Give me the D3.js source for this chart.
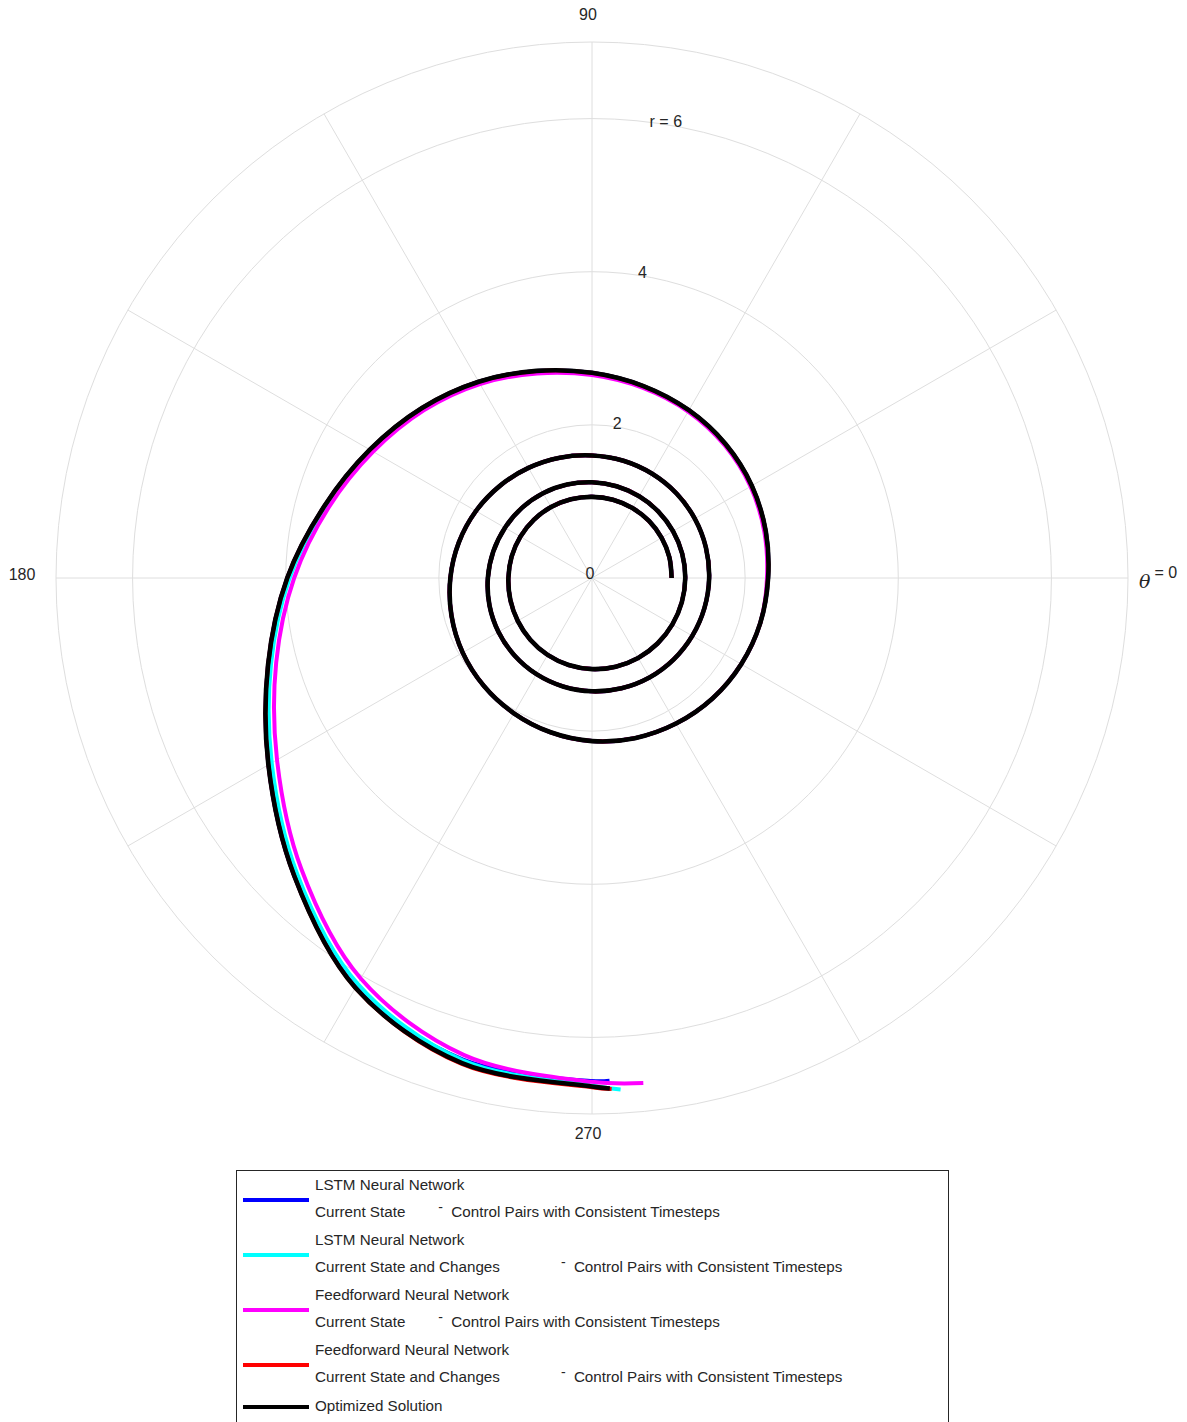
<!DOCTYPE html>
<html>
<head>
<meta charset="utf-8">
<script src="https://cdn.jsdelivr.net/npm/d3@7"></script>
<style>
  body { margin: 0; background: #fff; }
  svg { display: block; }
  text { font-family: "Liberation Sans", Arial, sans-serif; fill: #262626; }
</style>
</head>
<body>
<svg id="chart" width="1187" height="1422"></svg>
<script>
// ---- data: polar angle (degrees, cumulative) and radius of each trajectory ----
// first three revolutions (15° steps), shared by every trajectory
const thetaInner = [
     0,   15,   30,   45,   60,   75,   90,  105,  120,  135,  150,  165,
   180,  195,  210,  225,  240,  255,  270,  285,  300,  315,  330,  345,
   360,  375,  390,  405,  420,  435,  450,  465,  480,  495,  510,  525,
   540,  555,  570,  585,  600,  615,  630,  645,  660,  675,  690,  705,
   720,  735,  750,  765,  780,  795,  810,  825,  840,  855,  870,  885,
   900,  915,  930,  945,  960,  975,  990, 1005, 1020, 1035, 1050, 1065
];
const rInner = [
  1.040, 1.046, 1.050, 1.053, 1.055, 1.058, 1.060, 1.064, 1.070, 1.075, 1.080, 1.086,
  1.092, 1.104, 1.120, 1.140, 1.160, 1.177, 1.190, 1.199, 1.206, 1.210, 1.212, 1.215,
  1.218, 1.220, 1.222, 1.226, 1.232, 1.240, 1.250, 1.263, 1.279, 1.295, 1.312, 1.335,
  1.360, 1.386, 1.410, 1.431, 1.450, 1.466, 1.480, 1.491, 1.500, 1.506, 1.512, 1.520,
  1.530, 1.540, 1.550, 1.561, 1.572, 1.585, 1.600, 1.626, 1.660, 1.702, 1.750, 1.800,
  1.850, 1.900, 1.950, 1.996, 2.040, 2.086, 2.130, 2.165, 2.195, 2.225, 2.250, 2.275
];
// final revolution, where the trajectories separate
const thetaOuter = [
  1080, 1095, 1110, 1125, 1140, 1155, 1170, 1185, 1200, 1215,
  1230, 1245, 1260, 1275, 1290, 1305, 1320, 1335, 1350
];
const rLstmState = [
  2.30, 2.35, 2.41, 2.47, 2.53, 2.595, 2.68, 2.80, 2.96, 3.14,
  3.35, 3.62, 3.98, 4.38, 4.88, 5.50, 6.16, 6.51, 6.57
];
const rLstmStateChanges = [
  2.30, 2.35, 2.41, 2.47, 2.53, 2.595, 2.68, 2.80, 2.96, 3.135,
  3.335, 3.60, 3.95, 4.34, 4.83, 5.45, 6.12, 6.52, 6.63
];
const rFfnnState = [
  2.285, 2.33, 2.39, 2.45, 2.51, 2.57, 2.65, 2.765, 2.925, 3.10,
  3.30, 3.56, 3.89, 4.27, 4.75, 5.37, 6.04, 6.45, 6.58
];
const rFfnnStateChanges = [
  2.30, 2.35, 2.41, 2.47, 2.53, 2.595, 2.68, 2.80, 2.96, 3.14,
  3.35, 3.62, 3.98, 4.38, 4.88, 5.50, 6.18, 6.57, 6.65
];
const rOptimized = [
  2.30, 2.35, 2.41, 2.47, 2.53, 2.595, 2.68, 2.80, 2.96, 3.14,
  3.35, 3.62, 3.98, 4.38, 4.88, 5.50, 6.18, 6.56, 6.64
];
// final sample of each trajectory (same order as the series below)
const finalTheta = [1352.0, 1353.2, 1355.8, 1352.2, 1352.0];
const finalR     = [6.57, 6.69, 6.63, 6.68, 6.67];

const seriesNetwork = ["LSTM Neural Network", "LSTM Neural Network",
  "Feedforward Neural Network", "Feedforward Neural Network", "Optimized Solution"];
const seriesInput = ["Current State", "Current State and Changes",
  "Current State", "Current State and Changes", ""];
const seriesSuffix = "Control Pairs with Consistent Timesteps";
const seriesColors = ["#0000ff", "#00ffff", "#ff00ff", "#ff0000", "#000000"];
const seriesOuter = [rLstmState, rLstmStateChanges, rFfnnState, rFfnnStateChanges, rOptimized];

const radialTicks = [0, 2, 4, 6];
const radialMax = 7;
const spokeAngles = [0, 30, 60, 90, 120, 150, 180, 210, 240, 270, 300, 330];
const angleLabelValues = [90, 180, 270];

// ---- layout ----
const svg = d3.select("#chart");
const cx = 592, cy = 578, outerR = 536;
const r = d3.scaleLinear().domain([0, radialMax]).range([0, outerR]);
const toRad = d => d * Math.PI / 180;

const plot = svg.append("g").attr("transform", `translate(${cx},${cy})`);
const gridColor = "#dedede";

// radial grid circles and outer boundary
plot.selectAll("circle.grid")
  .data(radialTicks.filter(t => t > 0).concat([radialMax]))
  .join("circle")
  .attr("class", "grid")
  .attr("r", d => r(d))
  .attr("fill", "none")
  .attr("stroke", gridColor)
  .attr("stroke-width", 1);

// angular spokes
plot.selectAll("line.spoke")
  .data(spokeAngles)
  .join("line")
  .attr("class", "spoke")
  .attr("x1", 0).attr("y1", 0)
  .attr("x2", d => r(radialMax) * Math.cos(toRad(d)))
  .attr("y2", d => -r(radialMax) * Math.sin(toRad(d)))
  .attr("stroke", gridColor)
  .attr("stroke-width", 1);

// radial tick labels, placed along the 80° direction
const rLabelAngle = toRad(80.5);
plot.selectAll("text.rtick")
  .data(radialTicks)
  .join("text")
  .attr("class", "rtick")
  .attr("x", d => d === 0 ? -2 : r(d) * Math.cos(rLabelAngle) - (d === 6 ? 2 : 0))
  .attr("y", d => d === 0 ? -3 : -r(d) * Math.sin(rLabelAngle) - 2)
  .attr("text-anchor", "middle")
  .attr("dominant-baseline", "middle")
  .attr("font-size", 16)
  .text(d => d === 6 ? "r = 6" : String(d));

// angular labels
const labelGap = { 90: 26, 180: 34, 270: 21 };
plot.selectAll("text.alabel")
  .data(angleLabelValues)
  .join("text")
  .attr("class", "alabel")
  .attr("x", d => (r(radialMax) + labelGap[d]) * Math.cos(toRad(d)) - (d === 180 ? 0 : 4))
  .attr("y", d => -(r(radialMax) + labelGap[d]) * Math.sin(toRad(d)) - (d === 180 ? 2 : 0))
  .attr("text-anchor", "middle")
  .attr("dominant-baseline", "middle")
  .attr("font-size", 16)
  .text(d => String(d));

// θ = 0 label
const zeroLabel = plot.append("text")
  .attr("x", r(radialMax) + 11)
  .attr("y", 0);
zeroLabel.append("tspan")
  .attr("font-family", "'DejaVu Serif', 'Liberation Serif', serif")
  .attr("font-style", "italic")
  .attr("font-size", 19)
  .attr("dy", 10)
  .text("θ");
zeroLabel.append("tspan")
  .attr("font-size", 16)
  .attr("dx", 4)
  .attr("dy", -10)
  .text("= 0");

// trajectories
const radial = d3.lineRadial()
  .angle(d => Math.PI / 2 - toRad(d[0]))
  .radius(d => r(d[1]))
  .curve(d3.curveCatmullRom.alpha(0.5));

seriesOuter.forEach((outer, i) => {
  const pts = thetaInner.map((t, k) => [t, rInner[k]])
    .concat(thetaOuter.map((t, k) => [t, outer[k]]));
  pts.push([finalTheta[i], finalR[i]]);
  plot.append("path")
    .attr("d", radial(pts))
    .attr("fill", "none")
    .attr("stroke", seriesColors[i])
    .attr("stroke-width", i === 4 ? 4.6 : 4)
    .attr("stroke-linecap", "butt")
    .attr("stroke-linejoin", "round");
});

// ---- legend ----
const legend = svg.append("g");
legend.append("rect")
  .attr("x", 236.5).attr("y", 1170.5)
  .attr("width", 712).attr("height", 270)
  .attr("fill", "#fff")
  .attr("stroke", "#262626")
  .attr("stroke-width", 1);

const legendLineY = [1200, 1255, 1310, 1365, 1407];
const textX = 315;
const fs = 15.2;
seriesColors.forEach((c, i) => {
  const y = legendLineY[i];
  legend.append("line")
    .attr("x1", 243).attr("x2", 309)
    .attr("y1", y).attr("y2", y)
    .attr("stroke", c)
    .attr("stroke-width", 4);
  if (seriesInput[i] === "") {
    legend.append("text")
      .attr("x", textX).attr("y", y)
      .attr("dominant-baseline", "middle")
      .attr("font-size", fs)
      .text(seriesNetwork[i]);
    return;
  }
  legend.append("text")
    .attr("x", textX).attr("y", y - 14.5)
    .attr("dominant-baseline", "middle")
    .attr("font-size", fs)
    .text(seriesNetwork[i]);
  const second = legend.append("text")
    .attr("x", textX).attr("y", y + 12.5)
    .attr("dominant-baseline", "middle")
    .attr("font-size", fs)
    .text(seriesInput[i]);
  const w = second.node().getComputedTextLength();
  const dashX = textX + w + (w < 120 ? 33 : 61);
  legend.append("text")
    .attr("x", dashX).attr("y", y + 8.5)
    .attr("dominant-baseline", "middle")
    .attr("font-size", 14)
    .text("-");
  legend.append("text")
    .attr("x", dashX + 13).attr("y", y + 12.5)
    .attr("dominant-baseline", "middle")
    .attr("font-size", fs)
    .text(seriesSuffix);
});
</script>
</body>
</html>
